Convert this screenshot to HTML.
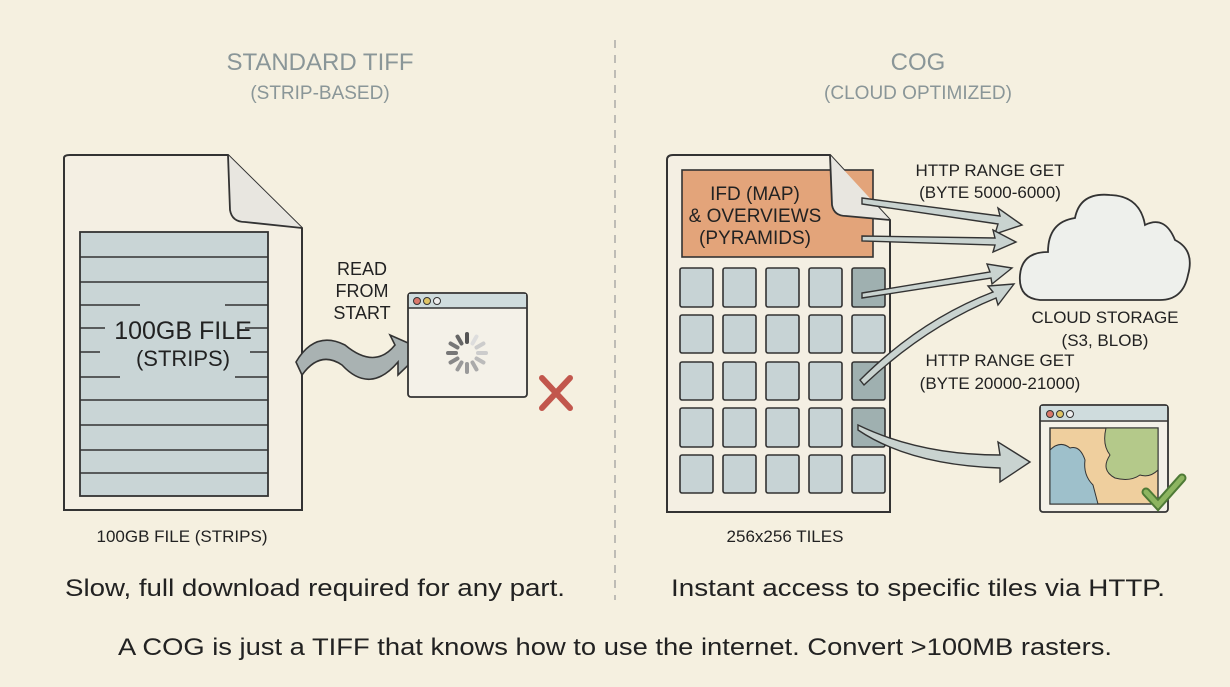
<!DOCTYPE html>
<html><head><meta charset="utf-8"><style>
html,body{margin:0;padding:0;background:#f5f0e0;}
svg{display:block;}
text{font-family:"Liberation Sans",sans-serif;}
</style></head><body>
<svg width="1230" height="687" viewBox="0 0 1230 687" xmlns="http://www.w3.org/2000/svg">
<rect width="1230" height="687" fill="#f5f0e0"/>
<line x1="615" y1="40" x2="615" y2="600" stroke="#999" stroke-width="1.2" stroke-dasharray="8,7"/>
<g fill="#8a9698" text-anchor="middle">
<text x="320" y="70" font-size="24">STANDARD TIFF</text>
<text x="320" y="99" font-size="19">(STRIP-BASED)</text>
<text x="918" y="70" font-size="24">COG</text>
<text x="918" y="99" font-size="19">(CLOUD OPTIMIZED)</text>
</g>
<!-- left doc -->
<path d="M64,158 Q64,155 70,155 L228,155 L302,228 L302,510 L64,510 Z" fill="#f4efe3" stroke="#333" stroke-width="2"/>
<path d="M228,155 L230,210 Q232,222 245,222 L302,228" fill="#e8e6e0" stroke="#333" stroke-width="1.8"/>
<rect x="80" y="232" width="188" height="264" fill="#c9d5d6" stroke="#333" stroke-width="1.8"/>
<g stroke="#333" stroke-width="1.4">
<line x1="80" y1="257" x2="268" y2="257"/><line x1="80" y1="282" x2="268" y2="282"/>
<line x1="80" y1="305" x2="140" y2="305"/><line x1="225" y1="305" x2="268" y2="305"/>
<line x1="80" y1="328" x2="105" y2="328"/><line x1="245" y1="328" x2="268" y2="328"/>
<line x1="80" y1="352" x2="100" y2="352"/><line x1="250" y1="352" x2="268" y2="352"/>
<line x1="80" y1="377" x2="120" y2="377"/><line x1="235" y1="377" x2="268" y2="377"/>
<line x1="80" y1="400" x2="268" y2="400"/><line x1="80" y1="425" x2="268" y2="425"/>
<line x1="80" y1="450" x2="268" y2="450"/><line x1="80" y1="473" x2="268" y2="473"/>
</g>
<text x="183" y="339" font-size="25" text-anchor="middle" fill="#222">100GB FILE</text>
<text x="183" y="366" font-size="22" text-anchor="middle" fill="#222">(STRIPS)</text>
<!-- wavy arrow -->
<path d="M296,362 Q315,330 345,345 Q375,370 395,345 L390,335 L424,350 L398,375 L398,362 Q370,395 342,365 Q320,350 302,375 Z" fill="#a9b2b2" stroke="#333" stroke-width="1.6"/>
<g font-size="18" text-anchor="middle" fill="#222">
<text x="362" y="275">READ</text><text x="362" y="297">FROM</text><text x="362" y="319">START</text>
</g>
<!-- left browser -->
<rect x="408" y="293" width="119" height="104" rx="3" fill="#f4f1e8" stroke="#333" stroke-width="1.8"/>
<rect x="409" y="294" width="117" height="14" fill="#cfdcdd"/>
<line x1="408" y1="308" x2="527" y2="308" stroke="#333" stroke-width="1.4"/>
<circle cx="417" cy="301" r="3.5" fill="#d9776a" stroke="#333"/><circle cx="427" cy="301" r="3.5" fill="#dfc465" stroke="#333"/><circle cx="437" cy="301" r="3.5" fill="#eee" stroke="#333"/>
<g transform="translate(467,353)" stroke-linecap="round" stroke-width="4">
<line x1="0" y1="-11" x2="0" y2="-19" stroke="#555"/>
<line x1="0" y1="-11" x2="0" y2="-19" stroke="#666" transform="rotate(-30)"/>
<line x1="0" y1="-11" x2="0" y2="-19" stroke="#777" transform="rotate(-60)"/>
<line x1="0" y1="-11" x2="0" y2="-19" stroke="#777" transform="rotate(-90)"/>
<line x1="0" y1="-11" x2="0" y2="-19" stroke="#888" transform="rotate(-120)"/>
<line x1="0" y1="-11" x2="0" y2="-19" stroke="#999" transform="rotate(-150)"/>
<line x1="0" y1="-11" x2="0" y2="-19" stroke="#999" transform="rotate(180)"/>
<line x1="0" y1="-11" x2="0" y2="-19" stroke="#aaa" transform="rotate(150)"/>
<line x1="0" y1="-11" x2="0" y2="-19" stroke="#bbb" transform="rotate(120)"/>
<line x1="0" y1="-11" x2="0" y2="-19" stroke="#ccc" transform="rotate(90)"/>
<line x1="0" y1="-11" x2="0" y2="-19" stroke="#ccc" transform="rotate(60)"/>
<line x1="0" y1="-11" x2="0" y2="-19" stroke="#ddd" transform="rotate(30)"/>
</g>
<g stroke="#c2574d" stroke-width="6" stroke-linecap="round"><line x1="542" y1="378" x2="570" y2="408"/><line x1="570" y1="378" x2="542" y2="408"/></g>
<text x="182" y="542" font-size="17" text-anchor="middle" fill="#222">100GB FILE (STRIPS)</text>
<!-- right doc -->
<path d="M667,160 Q667,155 673,155 L830,155 L890,220 L890,512 L667,512 Z" fill="#f4efe3" stroke="#333" stroke-width="2"/>
<rect x="682" y="170" width="191" height="87" fill="#e3a47a" stroke="#333" stroke-width="1.6"/>
<path d="M830,155 L832,205 Q834,216 846,216 L890,220" fill="#e8e6e0" stroke="#333" stroke-width="1.8"/>
<g font-size="19" text-anchor="middle" fill="#222">
<text x="755" y="200">IFD (MAP)</text><text x="755" y="222">&amp; OVERVIEWS</text><text x="755" y="244">(PYRAMIDS)</text>
</g>
<g fill="#c7d3d5" stroke="#333" stroke-width="1.6">
<rect x="680" y="268" width="33" height="39" rx="2"/><rect x="723" y="268" width="33" height="39" rx="2"/><rect x="766" y="268" width="33" height="39" rx="2"/><rect x="809" y="268" width="33" height="39" rx="2"/><rect x="852" y="268" width="33" height="39" rx="2" fill="#9fb0b0"/>
<rect x="680" y="315" width="33" height="38" rx="2"/><rect x="723" y="315" width="33" height="38" rx="2"/><rect x="766" y="315" width="33" height="38" rx="2"/><rect x="809" y="315" width="33" height="38" rx="2"/><rect x="852" y="315" width="33" height="38" rx="2"/>
<rect x="680" y="362" width="33" height="38" rx="2"/><rect x="723" y="362" width="33" height="38" rx="2"/><rect x="766" y="362" width="33" height="38" rx="2"/><rect x="809" y="362" width="33" height="38" rx="2"/><rect x="852" y="362" width="33" height="38" rx="2" fill="#9fb0b0"/>
<rect x="680" y="408" width="33" height="39" rx="2"/><rect x="723" y="408" width="33" height="39" rx="2"/><rect x="766" y="408" width="33" height="39" rx="2"/><rect x="809" y="408" width="33" height="39" rx="2"/><rect x="852" y="408" width="33" height="39" rx="2" fill="#9fb0b0"/>
<rect x="680" y="455" width="33" height="38" rx="2"/><rect x="723" y="455" width="33" height="38" rx="2"/><rect x="766" y="455" width="33" height="38" rx="2"/><rect x="809" y="455" width="33" height="38" rx="2"/><rect x="852" y="455" width="33" height="38" rx="2"/>
</g>
<text x="785" y="542" font-size="17" text-anchor="middle" fill="#222">256x256 TILES</text>
<!-- arrows -->
<g fill="#c9d3d0" stroke="#333" stroke-width="1.4">
<path d="M862,198 L1000,216 L998,208 L1022,225 L995,234 L998,224 L862,204 Z"/>
<path d="M862,236 L995,238 L993,230 L1016,242 L993,252 L995,245 L862,241 Z"/>
<path d="M862,293 L990,272 L987,264 L1012,268 L992,284 L991,278 L862,298 Z"/>
<path d="M860,380 Q920,320 993,292 L988,286 L1014,284 L998,305 L996,298 Q925,327 864,385 Z"/>
<path d="M858,425 Q920,455 1000,455 L998,442 L1030,462 L1000,482 L1000,468 Q910,465 858,430 Z"/>
</g>
<g font-size="17" text-anchor="middle" fill="#222">
<text x="990" y="176">HTTP RANGE GET</text><text x="990" y="198">(BYTE 5000-6000)</text>
<text x="1105" y="323">CLOUD STORAGE</text><text x="1105" y="346">(S3, BLOB)</text>
<text x="1000" y="366">HTTP RANGE GET</text><text x="1000" y="389">(BYTE 20000-21000)</text>
</g>
<!-- cloud -->
<path d="M1040,300 Q1018,298 1020,275 Q1022,252 1048,252 Q1048,222 1075,218 Q1080,192 1110,195 Q1140,196 1145,225 Q1165,215 1175,240 Q1195,250 1188,275 Q1183,300 1160,300 Z" fill="#eef0ec" stroke="#333" stroke-width="1.8"/>
<!-- right browser -->
<rect x="1040" y="405" width="128" height="107" rx="3" fill="#f4f1e8" stroke="#333" stroke-width="1.8"/>
<rect x="1041" y="406" width="126" height="14" fill="#cfdcdd"/>
<line x1="1040" y1="421" x2="1168" y2="421" stroke="#333" stroke-width="1.4"/>
<circle cx="1050" cy="414" r="3.5" fill="#d9776a" stroke="#333"/><circle cx="1060" cy="414" r="3.5" fill="#dfc465" stroke="#333"/><circle cx="1070" cy="414" r="3.5" fill="#eee" stroke="#333"/>
<rect x="1050" y="428" width="108" height="76" fill="#efcf9e" stroke="#333" stroke-width="1.4"/>
<path d="M1050,450 Q1060,440 1070,448 Q1080,445 1085,460 Q1083,475 1093,485 L1098,504 L1050,504 Z" fill="#9ec0cb" stroke="#333" stroke-width="1"/>
<path d="M1106,428 Q1102,445 1110,455 Q1100,470 1115,478 Q1130,482 1140,475 Q1150,478 1158,470 L1158,428 Z" fill="#b4c98a" stroke="#333" stroke-width="1"/>
<path d="M1146,492 L1158,505 L1182,478" fill="none" stroke="#4e7a36" stroke-width="9" stroke-linecap="round"/>
<path d="M1146,492 L1158,505 L1182,478" fill="none" stroke="#8db560" stroke-width="5" stroke-linecap="round"/>
<text x="315" y="596" font-size="24" text-anchor="middle" fill="#222" textLength="500" lengthAdjust="spacingAndGlyphs">Slow, full download required for any part.</text>
<text x="918" y="596" font-size="24" text-anchor="middle" fill="#222" textLength="494" lengthAdjust="spacingAndGlyphs">Instant access to specific tiles via HTTP.</text>
<text x="615" y="655" font-size="24" text-anchor="middle" fill="#222" textLength="994" lengthAdjust="spacingAndGlyphs">A COG is just a TIFF that knows how to use the internet. Convert &gt;100MB rasters.</text>
</svg>
</body></html>
